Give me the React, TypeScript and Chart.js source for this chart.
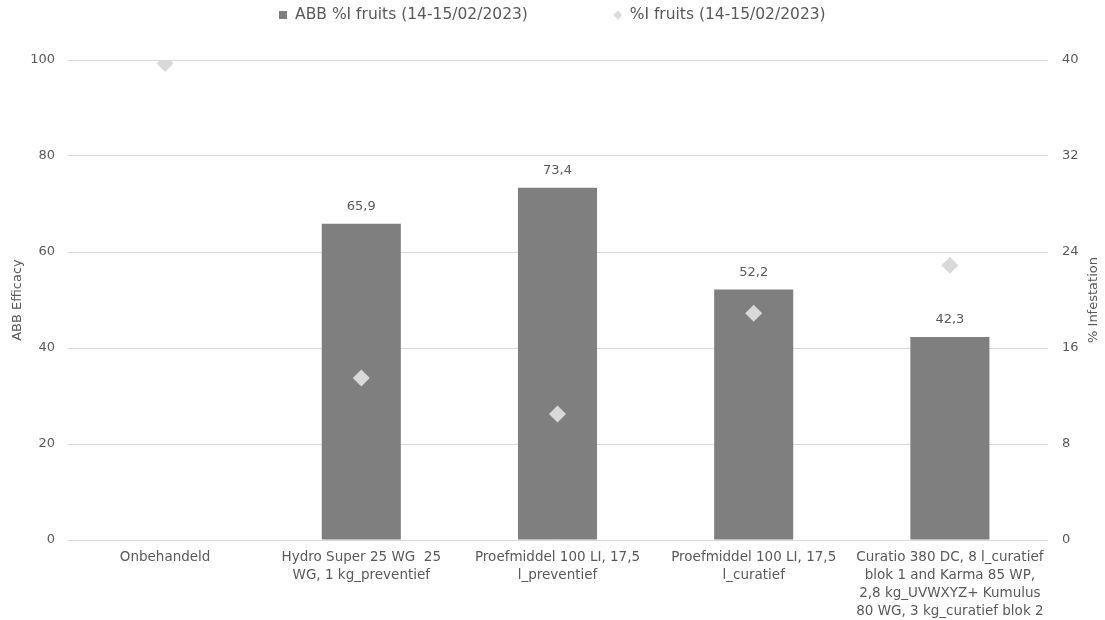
import React, { useEffect, useRef } from 'react';
import { Chart, registerables } from 'chart.js';

Chart.register(...registerables);

const categories: (string | string[])[] = [
  'Onbehandeld',
  ['Hydro Super 25 WG  25', 'WG, 1 kg_preventief'],
  ['Proefmiddel 100 LI, 17,5', 'l_preventief'],
  ['Proefmiddel 100 LI, 17,5', 'l_curatief'],
  ['Curatio 380 DC, 8 l_curatief', 'blok 1 and Karma 85 WP,', '2,8 kg_UVWXYZ+ Kumulus', '80 WG, 3 kg_curatief blok 2'],
];
const efficacyValues: (number | null)[] = [null, 65.9, 73.4, 52.2, 42.3];
const infestationValues: number[] = [39.7, 13.5, 10.5, 18.9, 22.9];
const barLabel = 'ABB %I fruits (14-15/02/2023)';
const pointLabel = '%I fruits (14-15/02/2023)';
const leftTitle = 'ABB Efficacy';
const rightTitle = '% Infestation';

const FONT = "'DejaVu Sans', sans-serif";
const TEXT = '#595959';
const GRID = '#d9d9d9';
const BAR = '#7f7f7f';
const DIAMOND = '#d9d9d9';

const LEGEND_FONT = 15.5;
const LEGEND_GAP = 86;
const LEGEND_CENTER_Y = 15;
const CHART_TOP = 60;

function makeMarker(kind: 'square' | 'diamond'): HTMLCanvasElement {
  const c = document.createElement('canvas');
  const s = kind === 'square' ? 8 : 9;
  c.width = s;
  c.height = s;
  const g = c.getContext('2d')!;
  if (kind === 'square') {
    g.fillStyle = BAR;
    g.fillRect(0, 0, s, s);
  } else {
    g.fillStyle = DIAMOND;
    g.beginPath();
    g.moveTo(s / 2, 0);
    g.lineTo(s, s / 2);
    g.lineTo(s / 2, s);
    g.lineTo(0, s / 2);
    g.closePath();
    g.fill();
  }
  return c;
}

export default function App() {
  const ref = useRef<HTMLCanvasElement>(null);

  useEffect(() => {
    if (!ref.current) return;
    const squareMarker = makeMarker('square');
    const diamondMarker = makeMarker('diamond');
    const layoutTop = LEGEND_CENTER_Y - LEGEND_GAP - LEGEND_FONT / 2;

    const legendHeight = {
      id: 'legendHeight',
      beforeInit(chart: any) {
        const orig = chart.legend.fit;
        chart.legend.fit = function () {
          orig.call(this);
          this.height = CHART_TOP - layoutTop;
        };
      },
    };

    const barValueLabels = {
      id: 'barValueLabels',
      afterDatasetsDraw(chart: any) {
        const ctx = chart.ctx;
        const meta = chart.getDatasetMeta(0);
        ctx.save();
        ctx.font = `13px ${FONT}`;
        ctx.fillStyle = TEXT;
        ctx.textAlign = 'center';
        ctx.textBaseline = 'middle';
        meta.data.forEach((bar: any, i: number) => {
          const v = efficacyValues[i];
          if (v == null) return;
          ctx.fillText(v.toFixed(1).replace('.', ','), bar.x, bar.y - 17);
        });
        ctx.restore();
      },
    };

    const rightAxisTitle = {
      id: 'rightAxisTitle',
      afterDraw(chart: any) {
        const ctx = chart.ctx;
        const a = chart.chartArea;
        ctx.save();
        ctx.font = `13px ${FONT}`;
        ctx.fillStyle = TEXT;
        ctx.textAlign = 'center';
        ctx.textBaseline = 'middle';
        ctx.translate(1094, (a.top + a.bottom) / 2);
        ctx.rotate(-Math.PI / 2);
        ctx.fillText(rightTitle, 0, 0);
        ctx.restore();
      },
    };

    const chart = new Chart(ref.current, {
      type: 'bar',
      data: {
        labels: categories as any,
        datasets: [
          {
            type: 'bar',
            label: barLabel,
            data: efficacyValues,
            backgroundColor: BAR,
            yAxisID: 'y',
            order: 1,
            barPercentage: 1,
            categoryPercentage: 0.403,
          } as any,
          {
            type: 'line',
            label: pointLabel,
            data: infestationValues,
            yAxisID: 'y1',
            showLine: false,
            pointStyle: 'rectRot',
            pointRadius: 8.5,
            pointHoverRadius: 8.5,
            pointBackgroundColor: DIAMOND,
            pointBorderColor: DIAMOND,
            pointBorderWidth: 0,
            backgroundColor: DIAMOND,
            borderColor: DIAMOND,
            order: 0,
          } as any,
        ],
      },
      options: {
        animation: false,
        responsive: true,
        maintainAspectRatio: false,
        layout: { padding: { top: layoutTop, left: 0, right: 0, bottom: 0 } },
        plugins: {
          tooltip: { enabled: false },
          legend: {
            display: true,
            position: 'top',
            align: 'center',
            labels: {
              usePointStyle: true,
              boxWidth: 8,
              boxHeight: 8,
              padding: LEGEND_GAP,
              color: TEXT,
              font: { family: FONT, size: LEGEND_FONT },
              generateLabels(chart: any) {
                const items = Chart.defaults.plugins.legend.labels.generateLabels(chart);
                items.sort((a: any, b: any) => a.datasetIndex - b.datasetIndex);
                items.forEach((it: any) => {
                  it.pointStyle = it.datasetIndex === 0 ? squareMarker : diamondMarker;
                  it.fontColor = TEXT;
                });
                return items;
              },
            },
          },
        },
        scales: {
          x: {
            grid: { display: false, drawTicks: false },
            border: { display: false },
            ticks: {
              color: TEXT,
              font: { family: FONT, size: 13.5, lineHeight: 1.33 },
              padding: 9,
              maxRotation: 0,
              minRotation: 0,
              autoSkip: false,
            },
            afterFit(scale: any) {
              scale.height = 80;
            },
          },
          y: {
            position: 'left',
            min: 0,
            max: 100,
            ticks: {
              stepSize: 20,
              color: TEXT,
              font: { family: FONT, size: 13 },
              padding: 12,
            },
            grid: { color: GRID, drawTicks: false, lineWidth: 1 },
            border: { display: false },
            title: {
              display: true,
              text: leftTitle,
              color: TEXT,
              font: { family: FONT, size: 13 },
              padding: { top: 10, bottom: 0 },
            },
            afterFit(scale: any) {
              scale.width = 67;
            },
          },
          y1: {
            position: 'right',
            min: 0,
            max: 40,
            ticks: {
              stepSize: 8,
              color: TEXT,
              font: { family: FONT, size: 13 },
              padding: 14,
            },
            grid: { display: false, drawTicks: false },
            border: { display: false },
            afterFit(scale: any) {
              scale.width = 57;
            },
          },
        },
      },
      plugins: [legendHeight, barValueLabels, rightAxisTitle],
    });

    return () => chart.destroy();
  }, []);

  return (
    <div style={{ position: 'absolute', left: 0, top: 0, width: 1105, height: 620, background: '#ffffff' }}>
      <canvas ref={ref} />
    </div>
  );
}
